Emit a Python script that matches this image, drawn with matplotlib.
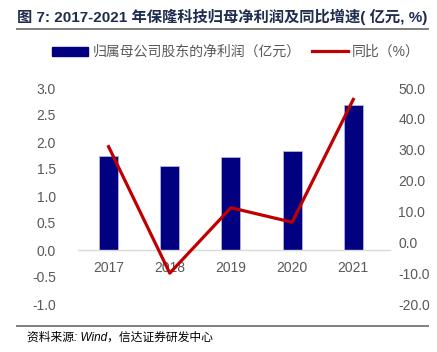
import matplotlib
matplotlib.use("Agg")
import matplotlib.pyplot as plt
from matplotlib.lines import Line2D
from matplotlib.patches import Patch

plt.rcParams["font.family"] = ["Liberation Sans", "Noto Sans CJK SC", "DejaVu Sans"]

years = ["2017", "2018", "2019", "2020", "2021"]
profit = [1.74, 1.55, 1.72, 1.83, 2.69]       # 亿元
growth = [31.0, -10.0, 11.2, 6.5, 46.3]         # %
left_ticks = [-1.0, -0.5, 0.0, 0.5, 1.0, 1.5, 2.0, 2.5, 3.0]
right_ticks = [-20, -10, 0, 10, 20, 30, 40, 50]

bar_color = "#000080"
line_color = "#C00000"
tick_color = "#595959"
rule_color = "#7F7F7F"

fig = plt.figure(figsize=(4.37, 3.52), dpi=100)

# header / footer rules drawn as the bottom spine of thin empty axes
for y_px in (29, 326):
    rule = fig.add_axes([17 / 437, 1 - y_px / 352, 411 / 437, 1 / 352])
    rule.set_xticks([])
    rule.set_yticks([])
    rule.patch.set_visible(False)
    for s in ["top", "right", "left"]:
        rule.spines[s].set_visible(False)
    rule.spines["bottom"].set_color(rule_color)
    rule.spines["bottom"].set_linewidth(1.4)

ax = fig.add_axes([78 / 437, 48 / 352, 312 / 437, 216 / 352])

x = range(len(years))
ax.bar(x, profit, width=0.31, color=bar_color, edgecolor="#B4B4E0", linewidth=0.6, zorder=2)
ax.set_xlim(-0.5, 4.6)
ax.set_ylim(-1.0, 3.0)
ax.set_yticks(left_ticks)
ax.set_yticklabels([f"{v:.1f}" for v in left_ticks])
ax.set_xticks(list(x))
ax.set_xticklabels(years)
ax.tick_params(length=0, colors=tick_color, labelsize=10)
ax.tick_params(axis="x", pad=8)
ax.tick_params(axis="y", pad=16)
for s in ["top", "right", "left"]:
    ax.spines[s].set_visible(False)
ax.spines["bottom"].set_position(("data", 0))
ax.spines["bottom"].set_color("#D9D9D9")
ax.spines["bottom"].set_linewidth(1.0)

ax2 = ax.twinx()
ax2.plot(list(x), growth, color=line_color, linewidth=2.3, zorder=3)
ax2.set_ylim(-20, 50)
ax2.set_yticks(right_ticks)
ax2.set_yticklabels([f"{v:.1f}" for v in right_ticks])
ax2.tick_params(length=0, colors=tick_color, labelsize=10, pad=6)
for s in ["top", "right", "left", "bottom"]:
    ax2.spines[s].set_visible(False)

# legend
handles = [Patch(color=bar_color), Line2D([], [], color=line_color, linewidth=2.3)]
labels = ["归属母公司股东的净利润（亿元）", "同比（%）"]
fig.legend(handles, labels, loc="center", bbox_to_anchor=(0.54, 1 - 52 / 352), ncol=2,
           frameon=False, fontsize=10, handlelength=2.6, handleheight=0.6,
           columnspacing=0.8, handletextpad=0.3, labelcolor=tick_color)

# title and source
fig.text(17 / 437, 1 - 17 / 352, "图 7: 2017-2021 年保隆科技归母净利润及同比增速( 亿元, %)",
         fontsize=11, fontweight="bold", color="#1F2D4F", va="center", ha="left")
fig.text(27 / 437, 1 - 338 / 352, "资料来源: Wind，信达证券研发中心",
         fontsize=8.5, style="italic", color="black", va="center", ha="left")

fig.savefig("out.png", dpi=100)
